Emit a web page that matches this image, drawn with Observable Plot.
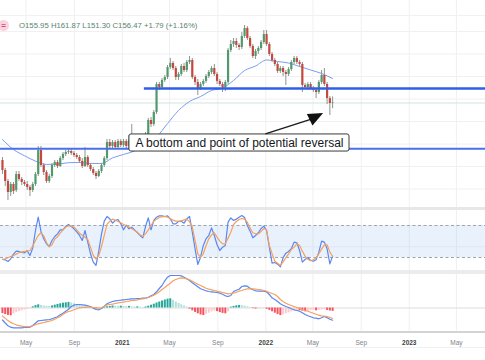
<!DOCTYPE html>
<html><head><meta charset="utf-8">
<script src="https://cdn.jsdelivr.net/npm/d3@7"></script>
<script src="https://cdn.jsdelivr.net/npm/@observablehq/plot@0.6"></script>
<style>
html,body{margin:0;padding:0;background:#fff;}
#wrap{position:relative;width:485px;height:360px;overflow:hidden;background:#fff;font-family:"Liberation Sans",Arial,sans-serif;}
.pane{position:absolute;left:0;}
.hl{position:absolute;left:0;width:485px;}
svg{display:block;}
#badge{position:absolute;left:-2px;top:20px;width:11px;height:11px;border-radius:50%;background:#f9d3dd;color:#e0457b;font-size:8px;font-weight:bold;line-height:11px;text-align:center;}
#hdr{position:absolute;left:19px;top:20.5px;font-size:7.75px;line-height:10px;color:#5b8270;white-space:nowrap;}
</style></head>
<body><div id="wrap">
<div class="hl" style="top:15px;height:1px;background:#f1f1f3"></div>
<div class="pane" id="main" style="top:0"></div>
<div id="badge">=</div>
<div id="hdr"></div>
<div class="hl" style="top:207px;height:3px;background:#e7e7ea"></div>
<div class="pane" id="stoch" style="top:210px"></div>
<div class="hl" style="top:270px;height:4px;background:#ececef"></div>
<div class="pane" id="macd" style="top:274px"></div>
<div class="hl" style="top:331px;height:2px;background:#d3d3d6"></div>
<div class="hl" style="top:347px;height:1px;background:#f0f0f2"></div>
<div class="pane" id="xaxis" style="top:331px"></div>
</div>
<script>
// ---------- data ----------
const header = "O155.95 H161.87 L151.30 C156.47 +1.79 (+1.16%)";
const note = "A bottom and point of potential reversal";
const firstWeek = "2020-03-02";
const nWeeks = 121;
const xStart = "2020-02-26", xEnd = "2023-07-14";
const open = [105.3,96.5,86.7,76.9,84.0,78.7,92.9,88.5,85.8,84.0,81.3,78.7,84.0,92.9,114.2,100.9,94.7,86.7,91.1,100.9,103.6,100.0,107.1,110.7,112.5,113.3,111.6,109.8,108.0,104.5,100.0,108.0,100.9,97.3,93.8,91.1,95.6,100.9,107.1,121.3,117.8,121.3,116.9,122.2,118.7,122.2,117.8,123.1,121.3,120.5,123.1,124.9,122.2,128.5,140.9,137.3,148.0,172.9,170.2,176.5,179.1,188.0,191.6,187.1,179.1,181.8,188.9,185.3,192.5,194.2,179.1,174.7,169.3,172.9,175.6,180.0,183.6,187.1,181.8,175.6,172.9,170.2,174.7,203.1,208.5,211.1,207.6,205.8,215.6,222.7,213.8,206.7,197.8,202.2,204.9,210.2,217.3,208.5,199.6,194.2,190.7,184.5,187.1,183.6,181.8,186.2,192.5,196.0,192.5,190.7,172.0,170.2,172.9,169.3,167.6,165.8,174.7,180.9,172.9,160.4,155.95];
const high = [108.0,98.2,88.5,85.8,85.8,95.6,95.6,90.2,87.6,86.7,83.1,85.8,94.7,117.8,117.8,102.7,96.5,92.9,102.7,105.3,105.3,108.9,112.5,114.2,115.1,115.1,113.3,111.6,109.8,107.1,116.9,109.8,102.7,99.1,95.6,97.3,102.7,108.9,124.0,124.0,123.1,123.1,124.0,124.0,124.0,124.0,127.6,137.3,124.9,125.8,127.6,126.7,130.2,142.7,143.6,149.8,174.7,174.7,178.2,180.9,189.8,196.0,193.3,188.9,183.6,190.7,191.6,194.2,197.8,196.0,180.9,177.3,174.7,177.3,181.8,185.3,188.9,190.7,183.6,177.3,174.7,176.5,204.9,212.0,213.8,213.8,209.3,219.1,225.3,224.4,215.6,208.5,204.0,206.7,212.0,220.9,220.9,210.2,201.3,196.0,192.5,188.9,188.9,185.3,188.0,194.2,197.8,197.8,194.2,192.5,173.8,174.7,174.7,171.1,169.3,176.5,185.3,187.1,174.7,162.2,161.87];
const low = [92.9,82.2,69.8,73.3,75.1,76.9,86.7,83.1,82.2,78.7,73.3,76.9,82.2,91.1,99.1,92.0,84.9,84.9,89.3,99.1,98.2,99.1,105.3,108.9,110.7,109.8,108.0,106.2,102.7,98.2,99.1,99.1,95.6,92.0,88.5,90.2,93.8,99.1,105.3,116.0,116.0,115.1,115.1,116.9,116.9,116.0,116.0,119.6,117.8,118.7,121.3,120.5,120.5,126.7,134.7,135.6,146.2,167.6,168.5,174.7,177.3,186.2,185.3,176.5,176.5,180.0,183.6,183.6,190.7,177.3,172.0,163.1,167.6,171.1,173.8,178.2,181.8,180.0,172.9,171.1,165.8,166.7,172.9,201.3,205.8,204.9,203.1,204.0,213.8,212.0,204.9,196.0,195.1,199.6,203.1,208.5,206.7,197.8,192.5,188.9,182.7,182.7,180.0,172.0,180.0,184.5,190.7,190.7,188.0,165.8,168.5,167.6,167.6,165.8,160.4,164.0,172.9,171.1,155.1,145.3,151.30];
const close = [96.5,86.7,76.9,84.0,77.8,92.9,88.5,85.8,84.0,81.3,78.7,84.0,92.9,114.2,100.9,94.7,86.7,91.1,100.9,103.6,100.0,107.1,110.7,112.5,113.3,111.6,109.8,108.0,104.5,100.0,108.0,100.9,97.3,93.8,91.1,95.6,100.9,107.1,121.3,117.8,121.3,116.9,122.2,118.7,122.2,117.8,123.1,121.3,120.5,123.1,124.9,122.2,128.5,140.9,137.3,148.0,172.9,170.2,176.5,179.1,188.0,191.6,187.1,179.1,181.8,188.9,185.3,192.5,194.2,179.1,174.7,169.3,172.9,175.6,180.0,183.6,187.1,181.8,175.6,172.9,170.2,174.7,203.1,208.5,211.1,207.6,205.8,215.6,222.7,213.8,206.7,197.8,202.2,204.9,210.2,217.3,208.5,199.6,194.2,190.7,184.5,187.1,183.6,181.8,186.2,192.5,196.0,192.5,190.7,172.0,170.2,172.9,169.3,167.6,165.8,174.7,180.9,172.9,160.4,156.0,156.47];
// moving average, one reading every 4 weeks
const maStep = 4;
const maValues = [124.0,115.1,109.6,104.8,101.8,102.1,103.4,103.6,102.7,102.7,107.6,110.7,113.8,119.1,126.2,138.2,149.8,157.8,162.2,167.6,169.8,176.5,185.3,189.3,194.7,193.3,192.0,188.9,185.8,182.7,178.2];
const stochK = [16.3,15.6,12.5,17.5,26.3,31.9,31.3,29.4,28.8,32.5,23.8,37.5,70.6,95.6,68.8,55.0,45.6,40.6,51.9,59.4,64.4,71.9,71.9,78.1,81.9,78.1,73.8,68.1,61.3,51.9,70.6,48.8,26.9,11.3,5.0,31.9,64.4,88.1,96.9,92.5,84.4,89.4,91.3,83.1,71.9,80.6,73.8,76.9,71.9,66.9,61.3,56.9,78.1,94.4,71.9,89.4,95.6,98.1,98.1,96.9,98.1,92.5,83.1,83.1,87.5,88.1,84.4,92.5,96.9,67.5,36.3,6.9,20.6,42.5,55.0,61.3,75.6,61.3,43.8,33.1,39.4,42.5,86.3,94.4,89.4,91.9,95.6,98.8,95.0,80.0,69.4,56.9,61.3,66.3,74.4,78.8,70.6,39.4,9.4,10.6,7.5,2.5,19.4,28.1,31.3,36.3,48.8,47.5,33.1,11.3,16.3,20.0,14.4,13.1,15.6,30.0,50.6,48.8,36.3,8.1,22.5];
const stochD = [16.3,17.5,19.4,21.9,23.8,26.3,28.8,30.6,31.3,32.5,33.1,41.3,51.9,61.3,66.3,60.6,48.1,40.0,43.8,54.4,58.8,65.6,71.9,76.9,79.4,78.8,76.9,71.9,65.6,61.9,58.1,53.8,39.4,23.8,16.9,23.8,40.6,61.3,81.9,88.1,91.9,90.0,87.5,85.0,81.9,79.4,76.9,73.8,70.6,67.5,62.5,59.4,64.4,71.9,80.0,88.1,91.9,95.0,96.3,96.9,95.6,93.1,90.0,88.1,88.1,88.8,90.6,91.9,86.9,76.9,51.9,26.9,20.6,26.9,42.5,55.0,62.5,66.3,58.1,50.6,45.6,45.6,56.3,67.5,81.9,87.5,91.3,93.1,92.0,86.3,75.0,66.3,64.4,64.4,68.8,74.4,71.9,42.5,26.9,13.1,9.4,5.0,11.9,19.4,26.9,35.0,39.4,45.6,42.5,31.9,22.5,16.3,14.4,15.6,19.4,26.9,35.6,43.8,43.8,30.0,21.9];
const stochBands = [20, 80];
const stochGrid = [40];
const macdLine = [-6.0,-7.5,-8.9,-9.6,-9.9,-9.9,-9.9,-9.9,-9.75,-9.75,-9.6,-8.75,-7.6,-6.4,-6.25,-6.1,-5.9,-5.75,-5.4,-4.9,-4.4,-3.4,-2.6,-1.6,-0.6,0.75,1.4,1.75,1.75,1.6,1.4,1.1,0.75,-0.1,-0.75,-0.9,-0.25,0.9,2.1,2.75,3.25,3.6,3.75,3.9,4.1,4.25,4.4,4.6,4.6,4.75,4.75,4.9,4.9,5.4,6.1,6.75,8.1,9.75,11.25,13.6,15.4,16.25,16.25,16.25,16.25,16.1,15.4,14.6,13.75,12.6,11.6,10.6,9.6,9.1,8.6,8.25,8.1,7.9,7.75,7.4,6.9,6.1,5.75,6.25,8.25,8.9,9.4,10.75,11.1,10.9,9.9,9.1,8.6,8.4,8.4,8.4,8.1,6.75,5.1,4.25,3.25,2.1,1.4,0.75,0.25,-0.4,-0.9,-1.25,-1.6,-2.4,-3.25,-3.9,-4.4,-4.9,-5.1,-5.4,-4.9,-4.25,-4.9,-5.6,-6.1];
const signalLine = [-4.0,-5.2,-6.3,-7.2,-7.9,-8.4,-8.8,-9.1,-9.3,-9.3,-9.2,-8.9,-8.4,-7.9,-7.6,-7.25,-6.9,-6.6,-6.25,-5.6,-4.9,-4.25,-3.1,-2.4,-1.75,-1.4,-0.9,-0.4,0.1,0.25,0.25,0.4,0.4,0.25,0.1,-0.1,0.1,0.75,1.6,1.75,1.9,2.25,2.6,2.75,2.9,3.25,3.4,3.75,3.75,4.1,4.4,4.6,4.75,5.25,5.75,6.4,7.1,8.1,9.25,10.25,11.4,12.4,13.6,14.25,14.75,15.1,14.9,14.6,14.1,13.4,12.6,11.9,11.25,10.6,9.9,9.4,9.1,8.75,8.4,8.1,7.75,7.4,7.1,7.25,7.4,7.9,8.4,8.75,9.25,9.6,9.6,9.6,9.4,9.25,9.1,8.75,8.4,7.75,7.25,6.75,5.75,4.25,3.25,2.4,1.75,1.25,0.75,0.25,-0.25,-0.75,-1.25,-1.6,-2.1,-2.6,-3.1,-3.6,-3.9,-4.1,-4.25,-4.75,-5.25];
const histogram = [-2.8,-3.3,-3.7,-3.9,-3.0,-2.3,-1.8,-1.4,-1.0,-0.7,-0.4,0.6,1.2,1.6,1.3,1.0,0.9,0.8,1.0,1.4,1.8,2.1,2.4,2.6,2.8,2.5,2.1,1.7,1.3,1.0,0.8,0.5,0.3,-0.2,-0.5,-0.4,-0.2,0.3,0.6,0.8,1.0,0.9,0.8,0.9,0.8,0.7,0.8,0.6,0.5,0.6,0.4,0.3,0.5,0.9,1.4,1.9,2.5,3.0,3.5,4.0,4.4,4.6,3.8,3.0,2.3,1.6,1.0,0.5,-0.6,-1.4,-2.2,-2.9,-3.5,-3.8,-3.2,-2.6,-2.0,-1.5,-1.8,-2.3,-2.7,-2.9,-2.0,0.4,0.8,1.1,1.3,1.2,0.9,0.6,0.3,-0.3,-0.5,-0.4,-0.3,-0.2,-0.6,-1.2,-1.9,-2.6,-3.3,-3.8,-3.4,-2.9,-2.4,-1.9,-1.5,-1.1,-1.3,-1.6,-1.9,-1.6,-1.3,-1.1,-1.4,-1.2,-1.0,-0.8,-1.2,-1.5,-1.7];
const tickDates = ["2020-05-01","2020-09-01","2021-01-01","2021-05-01","2021-09-01","2022-01-01","2022-05-01","2022-09-01","2023-01-01","2023-05-01"];
const tickLabels = ["May","Sep","2021","May","Sep","2022","May","Sep","2023","May"];
const priceTicks = [80, 100, 120, 140, 160, 180, 200, 220];
const lastClose = 156.47;
const resistance = {price: 169.3, from: "2021-02-26"};
const support = {price: 115.8, from: "2020-02-26"};
// annotation anchors (date, price)
const noteBox = {x1: "2021-01-19", x2: "2022-08-02", y1: 113.3, y2: 128.5};
const noteAt = {date: "2021-10-26", price: 120.9};
const arrowFrom = {date: "2021-12-31", price: 128.9};
const arrowTo = {date: "2022-04-27", price: 142.2};
const arrowHeadAt = {date: "2022-05-04", price: 143.56};

// ---------- build ----------
document.getElementById("hdr").textContent = header;
const D = s => new Date(s + "T00:00:00Z");
const xDomain = [D(xStart), D(xEnd)];
const weeks = d3.range(nWeeks).map(i => d3.utcDay.offset(D(firstWeek), 7 * i));
const candles = weeks.map((date, i) => ({date, open: open[i], high: high[i], low: low[i], close: close[i]}));
const maData = maValues.map((v, j) => ({date: weeks[j * maStep], value: v}));
const stochData = weeks.map((date, i) => ({date, k: stochK[i], d: stochD[i]}));
const macdData = weeks.map((date, i) => {
  const v = histogram[i], p = i ? histogram[i - 1] : v;
  const col = v >= 0 ? (v >= p ? "#26a69a" : "#b2dfdb") : (v <= p ? "#f7525f" : "#fccbcd");
  return {date, macd: macdLine[i], signal: signalLine[i], hist: v, col};
});
const ticks = tickDates.map(D);
const tickData = tickDates.map((t, i) => ({date: D(t), label: tickLabels[i], year: /^\d{4}$/.test(tickLabels[i])}));
const font = "Liberation Sans, Arial, sans-serif";
const grid = "#f0f0f3";
const xOpt = {type: "utc", domain: xDomain, axis: null};
const base = {width: 485, margin: 0, style: {background: "transparent", fontFamily: font, overflow: "visible"}, color: {type: "identity"}};
const arrowHead = {draw(ctx) { ctx.moveTo(0, -10); ctx.lineTo(6.4, 5); ctx.lineTo(-6.4, 5); ctx.closePath(); }};

const mainPlot = Plot.plot({
  ...base, height: 207,
  x: xOpt, y: {domain: [63.56, 247.56], axis: null},
  marks: [
    Plot.ruleY(priceTicks, {stroke: grid}),
    Plot.ruleX(ticks, {stroke: grid}),
    Plot.ruleY([lastClose], {stroke: "#cfe6dd"}),
    Plot.line(maData, {x: "date", y: "value", stroke: "#7a9cf3", strokeWidth: 1, curve: "monotone-x"}),
    Plot.ruleX(candles, {x: "date", y1: "low", y2: "high", stroke: "#8e9290", strokeWidth: 1}),
    Plot.ruleX(candles, {x: "date", y1: "open", y2: "close", stroke: d => d.close >= d.open ? "#4f9a6c" : "#c4483c", strokeWidth: 2.2}),
    Plot.ruleY([support], {y: "price", x1: d => D(d.from), x2: () => xDomain[1], stroke: "#4a6fee", strokeWidth: 1.8}),
    Plot.ruleY([resistance], {y: "price", x1: d => D(d.from), x2: () => xDomain[1], stroke: "#2f5fe8", strokeWidth: 2.6}),
    Plot.rect([noteBox], {x1: d => D(d.x1), x2: d => D(d.x2), y1: "y1", y2: "y2", fill: "white", stroke: "#3a3a3a", strokeWidth: 1, rx: 2}),
    Plot.text([note], {x: () => D(noteAt.date), y: () => noteAt.price, text: d => d, fontSize: 12, fill: "#131722"}),
    Plot.link([{a: arrowFrom, b: arrowTo}], {x1: d => D(d.a.date), y1: d => d.a.price, x2: d => D(d.b.date), y2: d => d.b.price, stroke: "#1a1a1a", strokeWidth: 1.3}),
    Plot.dot([arrowHeadAt], {x: d => D(d.date), y: "price", symbol: arrowHead, r: 8, fill: "#111", stroke: "none", rotate: 64})
  ]
});
document.getElementById("main").append(mainPlot);

const stochPlot = Plot.plot({
  ...base, height: 60,
  x: xOpt, y: {domain: [-4.4, 108.1], axis: null},
  marks: [
    Plot.ruleX(ticks, {stroke: grid}),
    Plot.rect([stochBands], {x1: () => xDomain[0], x2: () => xDomain[1], y1: d => d[0], y2: d => d[1], fill: "#2a7de1", fillOpacity: 0.1}),
    Plot.ruleY(stochGrid, {stroke: "#dde6f2"}),
    Plot.ruleY(stochBands, {stroke: "#9fa3aa", strokeDasharray: "3,2.5"}),
    Plot.line(stochData, {x: "date", y: "k", stroke: "#5a86f2", strokeWidth: 1.2}),
    Plot.line(stochData, {x: "date", y: "d", stroke: "#f5a05e", strokeWidth: 1.2})
  ]
});
document.getElementById("stoch").append(stochPlot);

const macdPlot = Plot.plot({
  ...base, height: 57,
  x: xOpt, y: {domain: [-11.75, 16.75], axis: null},
  marks: [
    Plot.ruleX(ticks, {stroke: grid}),
    Plot.ruleY([0], {stroke: "#dcdcdf"}),
    Plot.ruleX(macdData, {x: "date", y1: 0, y2: "hist", stroke: "col", strokeWidth: 2}),
    Plot.line(macdData, {x: "date", y: "macd", stroke: "#5a86f2", strokeWidth: 1.2}),
    Plot.line(macdData, {x: "date", y: "signal", stroke: "#f5a05e", strokeWidth: 1.2})
  ]
});
document.getElementById("macd").append(macdPlot);

const axisPlot = Plot.plot({
  ...base, height: 29,
  x: xOpt, y: {domain: [0, 1], axis: null},
  marks: [
    Plot.text(tickData.filter(d => !d.year), {x: "date", frameAnchor: "top", dy: 8.5, text: "label", fontSize: 6.5, fill: "#808389"}),
    Plot.text(tickData.filter(d => d.year), {x: "date", frameAnchor: "top", dy: 8.5, text: "label", fontSize: 6.5, fontWeight: "bold", fill: "#3d3f44"})
  ]
});
document.getElementById("xaxis").append(axisPlot);
</script>
</body></html>
